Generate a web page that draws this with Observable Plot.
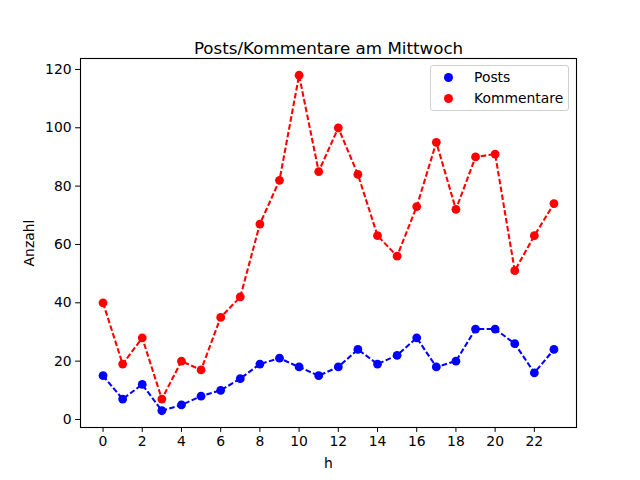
<!DOCTYPE html>
<html>
<head>
<meta charset="utf-8">
<script src="https://cdn.jsdelivr.net/npm/d3@7"></script>
<script src="https://cdn.jsdelivr.net/npm/@observablehq/plot@0.6"></script>
<style>
  body { margin: 0; background: white; }
  #wrap { position: relative; width: 640px; height: 480px; font-family: "DejaVu Sans", sans-serif; }
  #legend {
    position: absolute; left: 430px; top: 65px; width: 137px; height: 44px;
    border: 1px solid #d0d0d0; border-radius: 3px; background: rgba(255,255,255,0.8);
    font-size: 13.9px; color: black;
  }
  .entry { position: absolute; left: 0; height: 20px; line-height: 20px; }
  .entry .m { position: absolute; left: 13px; top: 5.5px; width: 9px; height: 9px; border-radius: 50%; }
  .entry .t { position: absolute; left: 43px; top: 0; white-space: nowrap; }
</style>
</head>
<body>
<div id="wrap">
  <div id="chart"></div>
  <div id="legend">
    <div class="entry" style="top:1px"><span class="m" style="background:#0000ff"></span><span class="t">Posts</span></div>
    <div class="entry" style="top:22px"><span class="m" style="background:#ff0000"></span><span class="t">Kommentare</span></div>
  </div>
</div>
<script>
const hours = [0,1,2,3,4,5,6,7,8,9,10,11,12,13,14,15,16,17,18,19,20,21,22,23];
const posts = [15,7,12,3,5,8,10,14,19,21,18,15,18,24,19,22,28,18,20,31,31,26,16,24];
const kommentare = [40,19,28,7,20,17,35,42,67,82,118,85,100,84,63,56,73,95,72,90,91,51,63,74];
const xTicks = [0,2,4,6,8,10,12,14,16,18,20,22];
const yTicks = [0,20,40,60,80,100,120];
const title = "Posts/Kommentare am Mittwoch";

const postRows = hours.map((h, i) => ({h, v: posts[i]}));
const kommRows = hours.map((h, i) => ({h, v: kommentare[i]}));

const dash = "5.55,2.4";
const chart = Plot.plot({
  width: 640, height: 480,
  marginLeft: 80, marginRight: 64, marginTop: 58, marginBottom: 53,
  style: {fontFamily: "DejaVu Sans", fontSize: "13.9px", background: "white", color: "black", overflow: "visible"},
  x: {domain: [-1.15, 24.15]},
  y: {domain: [-2.75, 123.75]},
  marks: [
    Plot.axisX({ticks: xTicks, tickSize: 4.9, tickPadding: 4, tickFormat: d => String(d), fontSize: 13.9,
      label: "h", labelAnchor: "center", labelArrow: "none", labelOffset: 40}),
    Plot.axisY({ticks: yTicks, tickSize: 4.9, tickPadding: 4, tickFormat: d => String(d), fontSize: 13.9,
      label: "Anzahl", labelAnchor: "center", labelArrow: "none", labelOffset: 56}),
    Plot.line(postRows, {x: "h", y: "v", stroke: "#0000ff", strokeWidth: 2.08, strokeDasharray: dash, strokeLinecap: "butt", strokeLinejoin: "round"}),
    Plot.dot(postRows, {x: "h", y: "v", fill: "#0000ff", r: 4.4, stroke: "none"}),
    Plot.line(kommRows, {x: "h", y: "v", stroke: "#ff0000", strokeWidth: 2.08, strokeDasharray: dash, strokeLinecap: "butt", strokeLinejoin: "round"}),
    Plot.dot(kommRows, {x: "h", y: "v", fill: "#ff0000", r: 4.4, stroke: "none"}),
    Plot.frame({stroke: "black", strokeWidth: 1.1}),
    Plot.text([title], {frameAnchor: "top", dy: -16.5, fontSize: 16.7, text: d => d, fill: "black"})
  ]
});
document.getElementById("chart").appendChild(chart);
</script>
</body>
</html>
